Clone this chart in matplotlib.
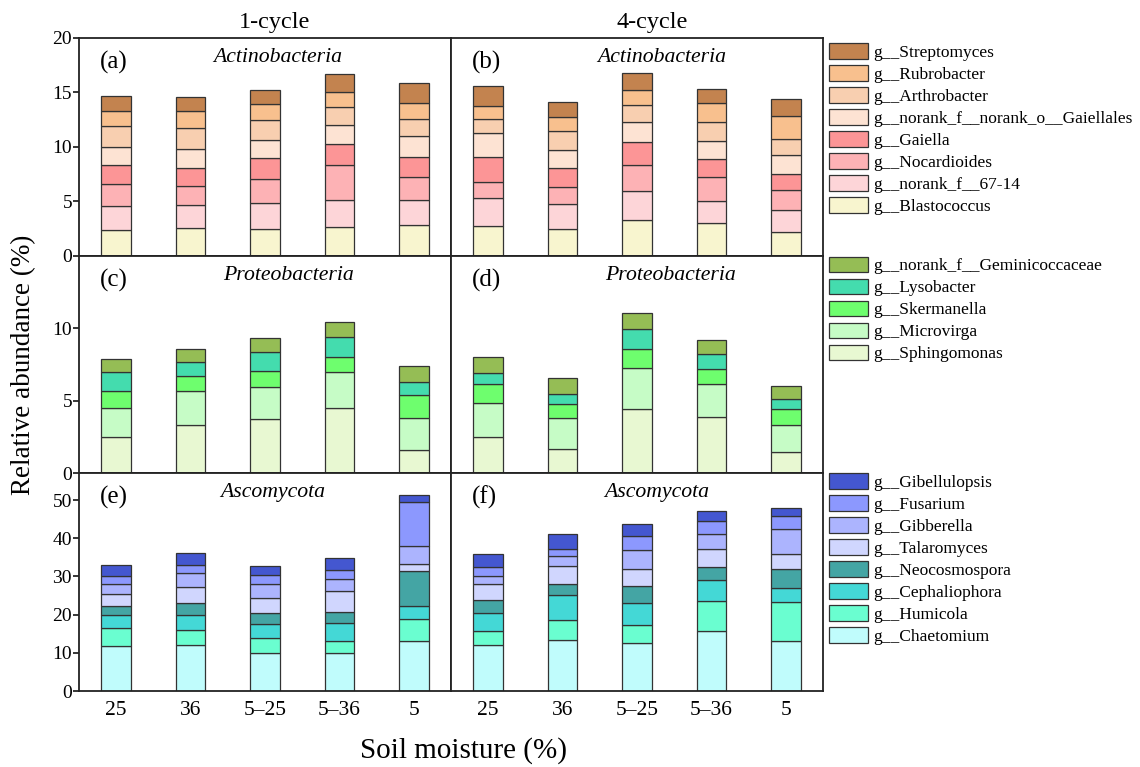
import matplotlib
matplotlib.use('Agg')
import matplotlib.pyplot as plt
from matplotlib.patches import Patch
import numpy as np

plt.rcParams['font.family'] = ['Liberation Serif', 'DejaVu Serif']

moisture = ['25', '36', '5–25', '5–36', '5']
cycles = ['1-cycle', '4-cycle']

# ---- Actinobacteria (bottom -> top)
actino_genera = ['g__Blastococcus', 'g__norank_f__67-14', 'g__Nocardioides', 'g__Gaiella',
                 'g__norank_f__norank_o__Gaiellales', 'g__Arthrobacter', 'g__Rubrobacter',
                 'g__Streptomyces']
actino_colors = ['#F8F5CF', '#FDD5D8', '#FDB2B5', '#FC9596', '#FDE3D3', '#F8CFB0',
                 '#F8C08E', '#C3834F']
actino_1 = [
    [2.32, 2.51, 2.42, 2.60, 2.81],
    [2.21, 2.17, 2.38, 2.51, 2.27],
    [2.04, 1.71, 2.23, 3.24, 2.14],
    [1.72, 1.71, 1.90, 1.93, 1.80],
    [1.65, 1.69, 1.74, 1.77, 1.93],
    [1.93, 1.98, 1.75, 1.65, 1.62],
    [1.43, 1.53, 1.49, 1.38, 1.47],
    [1.41, 1.32, 1.35, 1.62, 1.80],
]
actino_4 = [
    [2.69, 2.48, 3.24, 3.00, 2.20],
    [2.63, 2.26, 2.66, 2.05, 2.02],
    [1.44, 1.56, 2.42, 2.17, 1.80],
    [2.35, 1.71, 2.08, 1.68, 1.47],
    [2.14, 1.71, 1.86, 1.62, 1.75],
    [1.35, 1.69, 1.56, 1.77, 1.52],
    [1.19, 1.31, 1.38, 1.78, 2.08],
    [1.84, 1.41, 1.56, 1.22, 1.53],
]

# ---- Proteobacteria (bottom -> top)
proteo_genera = ['g__Sphingomonas', 'g__Microvirga', 'g__Skermanella', 'g__Lysobacter',
                 'g__norank_f__Geminicoccaceae']
proteo_colors = ['#E8F8D2', '#C6FCC6', '#6EFE6E', '#44DCAE', '#95BD55']
proteo_1 = [
    [2.47, 3.36, 3.73, 4.53, 1.58],
    [2.06, 2.34, 2.24, 2.43, 2.26],
    [1.17, 1.03, 1.08, 1.07, 1.58],
    [1.28, 0.96, 1.30, 1.38, 0.90],
    [0.87, 0.91, 1.01, 1.05, 1.05],
]
proteo_4 = [
    [2.47, 1.69, 4.46, 3.91, 1.46],
    [2.38, 2.09, 2.77, 2.25, 1.90],
    [1.33, 1.03, 1.37, 1.05, 1.10],
    [0.73, 0.68, 1.35, 1.03, 0.69],
    [1.14, 1.10, 1.10, 0.96, 0.89],
]

# ---- Ascomycota (bottom -> top)
asco_genera = ['g__Chaetomium', 'g__Humicola', 'g__Cephaliophora', 'g__Neocosmospora',
               'g__Talaromyces', 'g__Gibberella', 'g__Fusarium', 'g__Gibellulopsis']
asco_colors = ['#C0FCFC', '#6AFED0', '#44D8D6', '#44A5A4', '#D0D6FE', '#ACB4FE',
               '#8C98FE', '#4457D0']
asco_1 = [
    [11.87, 11.95, 9.86, 9.86, 13.00],
    [4.53, 3.93, 4.01, 3.32, 5.94],
    [3.41, 3.93, 3.67, 4.53, 3.22],
    [2.53, 3.14, 2.88, 2.97, 9.25],
    [3.05, 4.36, 4.01, 5.50, 1.92],
    [2.62, 3.49, 3.67, 3.05, 4.63],
    [2.09, 2.27, 2.18, 2.45, 11.43],
    [2.97, 2.97, 2.44, 3.22, 1.92],
]
asco_4 = [
    [11.95, 13.26, 12.48, 15.62, 13.00],
    [3.76, 5.41, 4.71, 7.85, 10.30],
    [4.80, 6.46, 5.76, 5.50, 3.66],
    [3.22, 2.88, 4.45, 3.40, 5.06],
    [4.28, 4.63, 4.45, 4.80, 3.76],
    [2.09, 2.70, 4.97, 3.84, 6.54],
    [2.45, 1.92, 3.67, 3.41, 3.40],
    [3.23, 3.75, 3.14, 2.61, 2.19],
]

phyla = ['Actinobacteria', 'Proteobacteria', 'Ascomycota']
panel_letters = [['(a)', '(b)'], ['(c)', '(d)'], ['(e)', '(f)']]
rows = [
    (actino_genera, actino_colors, [actino_1, actino_4], 20, [0, 5, 10, 15, 20]),
    (proteo_genera, proteo_colors, [proteo_1, proteo_4], 15, [0, 5, 10]),
    (asco_genera, asco_colors, [asco_1, asco_4], 57, [0, 10, 20, 30, 40, 50]),
]
title_x = [[0.535, 0.567], [0.562, 0.589], [0.522, 0.554]]

W, H = 1140, 767
fig = plt.figure(figsize=(W / 100, H / 100), dpi=100)
gs = fig.add_gridspec(3, 2, left=79 / W, right=823 / W, top=1 - 38 / H, bottom=1 - 691 / H,
                      hspace=0, wspace=0)

edge = '#333333'
x = np.arange(len(moisture))
for r, (genera, colors, data, ymax, yt) in enumerate(rows):
    for c in range(2):
        ax = fig.add_subplot(gs[r, c])
        bottom = np.zeros(len(moisture))
        for g, vals in enumerate(data[c]):
            vals = np.array(vals)
            ax.bar(x, vals, width=0.4, bottom=bottom, color=colors[g], edgecolor=edge,
                   linewidth=0.9)
            bottom += vals
        ax.set_xlim(-0.5, 4.5)
        ax.set_ylim(0, ymax)
        ax.set_yticks(yt)
        for s in ax.spines.values():
            s.set_linewidth(1.3)
            s.set_color('#222222')
        if c == 0:
            ax.tick_params(axis='y', direction='out', length=4, width=1.1, labelsize=14, pad=1)
        else:
            ax.tick_params(axis='y', left=False, labelleft=False)
        ax.set_xticks(x)
        if r == 2:
            ax.set_xticklabels(moisture)
            ax.tick_params(axis='x', length=0, labelsize=15.5, pad=7)
        else:
            ax.tick_params(axis='x', bottom=False, labelbottom=False)
        ax.text(0.056, 0.888, panel_letters[r][c], transform=ax.transAxes, ha='left',
                va='center', fontsize=18)
        ax.text(title_x[r][c], 0.91, phyla[r], transform=ax.transAxes, ha='center',
                va='center', fontsize=15.7, style='italic')

# column titles
fig.text(275 / W, 1 - 28 / H, cycles[0], ha='center', va='baseline', fontsize=17.5)
fig.text(652 / W, 1 - 28 / H, cycles[1], ha='center', va='baseline', fontsize=17.5)

# axis labels
fig.text(24 / W, 0.525, 'Relative abundance (%)', rotation=90, ha='center', va='center',
         fontsize=19.5)
fig.text(464 / W, 1 - 751 / H, 'Soil moisture (%)', ha='center', va='center', fontsize=21)

# legends
legend_tops = [43, 256.5, 473]
for (genera, colors, _, _, _), top in zip(rows, legend_tops):
    handles = [Patch(facecolor=colors[i], edgecolor=edge, linewidth=0.9, label=genera[i])
               for i in range(len(genera) - 1, -1, -1)]
    fig.legend(handles=handles, loc='upper left', bbox_to_anchor=(829 / W, 1 - top / H),
               frameon=False, fontsize=12.5, handlelength=2.25, handleheight=1.0,
               labelspacing=0.25, handletextpad=0.3, borderpad=0, borderaxespad=0)

fig.savefig('out.png', dpi=100)
